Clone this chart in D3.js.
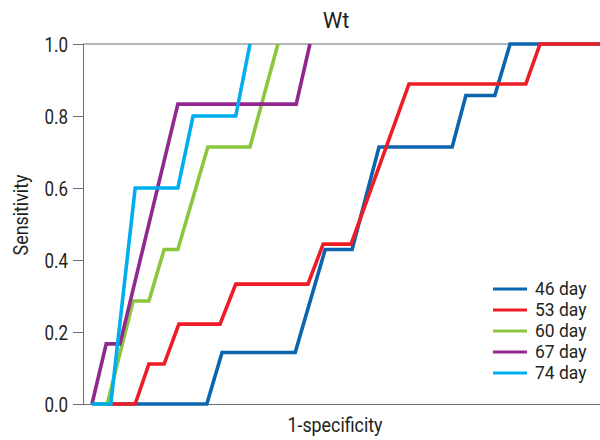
<!DOCTYPE html>
<html>
<head>
<meta charset="utf-8">
<script src="https://cdn.jsdelivr.net/npm/d3@7"></script>
<style>
  html, body { margin: 0; padding: 0; background: #fff; }
  svg { display: block; }
</style>
</head>
<body>
<svg id="chart" width="600" height="440"></svg>
<script>
// ---- data ----
const seriesNames = ["46 day", "53 day", "60 day", "67 day", "74 day"];
const seriesColors = ["#0a64ae", "#ee1c25", "#8cc63f", "#92278f", "#00aeef"];

const x46 = [0, 0.226, 0.256, 0.400, 0.459, 0.512, 0.565, 0.709, 0.736, 0.793, 0.823, 1];
const y46 = [0, 0, 0.143, 0.143, 0.429, 0.429, 0.714, 0.714, 0.857, 0.857, 1, 1];

const x53 = [0, 0.085, 0.112, 0.142, 0.171, 0.252, 0.283, 0.425, 0.455, 0.510, 0.624, 0.854, 0.882, 1];
const y53 = [0, 0, 0.111, 0.111, 0.222, 0.222, 0.333, 0.333, 0.444, 0.444, 0.889, 0.889, 1, 1];

const x60 = [0, 0.030, 0.081, 0.112, 0.142, 0.169, 0.228, 0.311, 0.366];
const y60 = [0, 0, 0.286, 0.286, 0.429, 0.429, 0.714, 0.714, 1];

const x67 = [0, 0.028, 0.055, 0.169, 0.402, 0.429];
const y67 = [0, 0.167, 0.167, 0.833, 0.833, 1];

const x74 = [0, 0.037, 0.085, 0.169, 0.199, 0.283, 0.311];
const y74 = [0, 0, 0.6, 0.6, 0.8, 0.8, 1];

const yTicks = [0, 0.2, 0.4, 0.6, 0.8, 1.0];
const chartTitle = "Wt";
const xTitle = "1-specificity";
const yTitle = "Sensitivity";

// ---- layout ----
const svg = d3.select("#chart");
const axisLeftX = 83, plotTop = 44, plotBottom = 404, plotRight = 600;
const font = "Roboto, 'Liberation Sans', Arial, sans-serif";
const squeeze = 0.85; // condensed look
const ink = "#231f20";

const x = d3.scaleLinear().domain([0, 1]).range([92, plotRight]);
const y = d3.scaleLinear().domain([0, 1]).range([plotBottom, plotTop]);

// frame lines
svg.append("line").attr("x1", axisLeftX).attr("x2", plotRight)
  .attr("y1", y(1)).attr("y2", y(1)).attr("stroke", "#6d6e71").attr("stroke-width", 1);
svg.append("line").attr("x1", axisLeftX).attr("x2", plotRight)
  .attr("y1", y(0) + 0.5).attr("y2", y(0) + 0.5).attr("stroke", "#6d6e71").attr("stroke-width", 1.2);

// y axis
const yAxis = svg.append("g")
  .attr("transform", `translate(${axisLeftX},0)`)
  .call(d3.axisLeft(y).tickValues(yTicks).tickFormat(d3.format(".1f")).tickSize(10).tickPadding(5));
yAxis.select(".domain").attr("stroke", "#6d6e71");
yAxis.selectAll(".tick line").attr("stroke", "#6d6e71");
yAxis.selectAll(".tick text")
  .attr("font-family", font).attr("font-size", 20).attr("fill", ink)
  .attr("x", -15 / squeeze).attr("dy", "0.36em")
  .attr("transform", `scale(${squeeze},1)`);

// lines
const xs = [x46, x53, x60, x67, x74];
const ys = [y46, y53, y60, y67, y74];
const line = d3.line().x(d => x(d[0])).y(d => y(d[1]));
xs.forEach((xv, i) => {
  const pts = xv.map((v, j) => [v, ys[i][j]]);
  svg.append("path").datum(pts)
    .attr("d", line)
    .attr("fill", "none")
    .attr("stroke", seriesColors[i])
    .attr("stroke-width", 3.6)
    .attr("stroke-linejoin", "miter");
});

// title
svg.append("text").attr("x", 336).attr("y", 28).attr("text-anchor", "middle")
  .attr("font-family", font).attr("font-size", 22)
  .attr("fill", ink).text(chartTitle);

// axis titles
svg.append("text").attr("transform", `translate(335,432) scale(${squeeze},1)`).attr("text-anchor", "middle")
  .attr("font-family", font).attr("font-size", 21)
  .attr("fill", ink).text(xTitle);
svg.append("text").attr("transform", `translate(28,215) rotate(-90) scale(${squeeze},1)`).attr("text-anchor", "middle")
  .attr("font-family", font).attr("font-size", 21)
  .attr("fill", ink).text(yTitle);

// legend
const legend = svg.append("g").attr("transform", "translate(493,289)");
seriesNames.forEach((name, i) => {
  const g = legend.append("g").attr("transform", `translate(0,${i * 21})`);
  g.append("line").attr("x1", 0).attr("x2", 34).attr("y1", 0).attr("y2", 0)
    .attr("stroke", seriesColors[i]).attr("stroke-width", 3);
  g.append("text").attr("transform", `translate(42,0) scale(0.97,1)`).attr("dy", "0.36em")
    .attr("font-family", font).attr("font-size", 18)
    .attr("fill", ink).text(name);
});
</script>
</body>
</html>
